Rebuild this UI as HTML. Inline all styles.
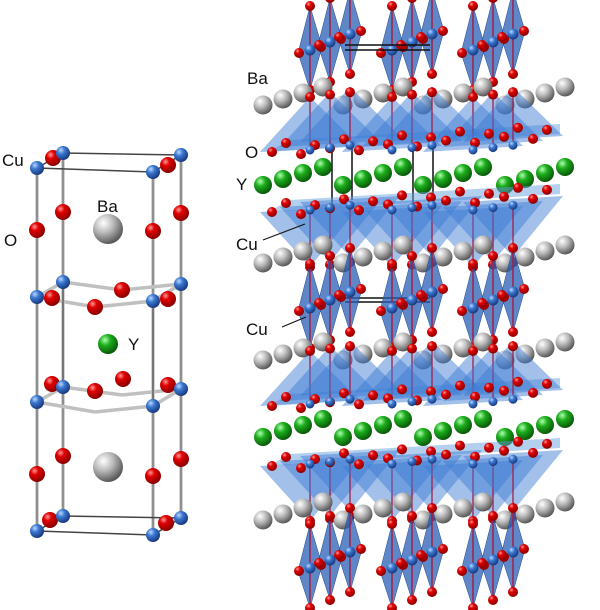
<!DOCTYPE html>
<html><head><meta charset="utf-8"><style>
html,body{margin:0;padding:0;background:#fff;width:600px;height:610px;overflow:hidden}
svg{display:block}
text{font-family:"Liberation Sans",sans-serif;font-size:17px;fill:#111}
</style></head><body>
<svg id="s" width="600" height="610" viewBox="0 0 600 610" xmlns="http://www.w3.org/2000/svg">
<defs>
<radialGradient id="gr" cx="35%" cy="30%" r="70%"><stop offset="0" stop-color="#ff9a9a"/><stop offset=".35" stop-color="#e00000"/><stop offset="1" stop-color="#8a0000"/></radialGradient>
<radialGradient id="gb" cx="35%" cy="30%" r="70%"><stop offset="0" stop-color="#bcd6ff"/><stop offset=".4" stop-color="#3a78d0"/><stop offset="1" stop-color="#1a3a80"/></radialGradient>
<radialGradient id="gg" cx="35%" cy="30%" r="70%"><stop offset="0" stop-color="#b0ffb0"/><stop offset=".4" stop-color="#1cae1c"/><stop offset="1" stop-color="#0a5a0a"/></radialGradient>
<radialGradient id="gw" cx="35%" cy="30%" r="70%"><stop offset="0" stop-color="#ffffff"/><stop offset=".45" stop-color="#bdbdbd"/><stop offset="1" stop-color="#5a5a5a"/></radialGradient>
</defs>
<g id="L"></g>
<g id="R"></g>
<text x="2" y="166">Cu</text>
<text x="4" y="246">O</text>
<text x="97" y="212">Ba</text>
<text x="128" y="350">Y</text>
<text x="247" y="84">Ba</text>
<text x="245" y="158">O</text>
<text x="236" y="190">Y</text>
<text x="236" y="250">Cu</text>
<text x="246" y="335">Cu</text>
<line x1="263" y1="240" x2="305" y2="224" stroke="#111" stroke-width="1"/>
<line x1="282" y1="327" x2="306" y2="317" stroke="#111" stroke-width="1"/>
</svg>
<script>
var NS="http://www.w3.org/2000/svg";
function el(p,t,a){var e=document.createElementNS(NS,t);for(var k in a)e.setAttribute(k,a[k]);p.appendChild(e);return e;}
var L=document.getElementById('L'),R=document.getElementById('R');
function ball(p,x,y,r,g){el(p,'circle',{cx:x,cy:y,r:r,fill:'url(#'+g+')'});}
function bond(p,a,b,w,c){el(p,'line',{x1:a[0],y1:a[1],x2:b[0],y2:b[1],stroke:c||'#aaa','stroke-width':w||3});}
var cols=[[37,0],[63,-15],[153,4],[181,-13]];
var lv=[168,297,402,531];
cols.forEach(function(c){bond(L,[c[0],lv[0]+c[1]],[c[0],lv[3]+c[1]],3.2,'#b8b8b8');bond(L,[c[0],lv[0]+c[1]],[c[0],lv[3]+c[1]],1,'#666');});
function ring(y,pl){var a=[37,y],b=[63,y-15],c=[153,y+4],d=[181,y-13];
 if(pl){var m1=[95,y+10],m2=[122,y-7];
  [[a,m1],[m1,c],[b,m2],[m2,d],[a,b],[c,d]].forEach(function(s){bond(L,s[0],s[1],3.5,'#c0c0c0');});
 }else{[[a,c],[b,d],[a,b],[c,d]].forEach(function(s){bond(L,s[0],s[1],1.5,'#444');});}
}
ring(168,0);ring(297,1);ring(402,1);ring(531,0);
bond(L,[63,280],[63,385],1,'#333');bond(L,[153,301],[153,406],1,'#333');
ball(L,108,229,15,'gw');ball(L,108,467,15,'gw');ball(L,108,344,10,'gg');
[[37,230],[63,212],[153,231],[181,213],[37,474],[63,456],[153,476],[181,459],[53,158],[168,165],[50,520],[166,523],
 [52,298],[95,307],[122,290],[168,299],[52,384],[95,391],[123,379],[168,385]].forEach(function(p){ball(L,p[0],p[1],8,'gr');});
cols.forEach(function(c){lv.forEach(function(y){ball(L,c[0],y+c[1],7,'gb');});});
var colx=[310,330,350,392,412,432,473,493,513];
var coly=[0,-8,-16,0,-8,-16,0,-8,-16];
function octa(cy,sc){colx.forEach(function(x,i){var y=cy+coly[i];
 el(R,'polygon',{points:(x)+','+(y-44*sc)+' '+(x+12)+','+(y-3)+' '+x+','+(y+40*sc)+' '+(x-12)+','+(y+3),fill:'#2a5fb5','fill-opacity':.75,stroke:'#1f4a96','stroke-width':.5});
 bond(R,[x,y-44*sc],[x,y+40*sc],1.5,'#a0204a');
});colx.forEach(function(x,i){var y=cy+coly[i];
 ball(R,x,y,5.5,'gb');ball(R,x,y-44*sc,5,'gr');ball(R,x,y+40*sc,5,'gr');ball(R,x-11,y+3,5,'gr');ball(R,x+11,y-3,5,'gr');});}
function pyr(y0,dir){
 el(R,'polygon',{points:'268,'+(y0)+' 560,'+(y0-18)+' 560,'+(y0-28)+' 290,'+(y0-12),fill:'#6aa2e0','fill-opacity':.5});
 [310,392,473].forEach(function(x){for(var d=0;d<3;d++){var xx=x+d*20,yy=y0-d*5;
  el(R,'polygon',{points:(xx-50)+','+yy+' '+(xx+50)+','+(yy-6)+' '+xx+','+(yy+dir*55),fill:'#3c7cd4','fill-opacity':.48});
  bond(R,[xx,yy],[xx,yy+dir*55],1.3,'#a0204a');}});
 for(var r=0;r<2;r++)for(var i=0;i<10;i++){var x=272+i*29+r*14,y=y0-i*1.9-r*9+(i%2?4:0);ball(R,x,y,5,'gr');}
 colx.forEach(function(x,i){ball(R,x,y0+coly[i]*.3-2,4.5,'gb');ball(R,x,y0+coly[i]*.3+dir*55,5,'gr');});
}
function row(y0,g,r){[263,343,423,505].forEach(function(s){for(var k=0;k<4;k++)ball(R,s+k*20,y0-k*6,r,g);});}
octa(50,1);
[[345,45,430,45],[345,50,430,50],[332,150,332,205],[352,145,352,200],[413,150,413,205],[433,145,433,200],[345,298,430,298],[345,302,430,302]].forEach(function(l){bond(R,[l[0],l[1]],[l[2],l[3]],1.5,'#111');});
row(105,'gw',9.5);
pyr(152,-1);
row(185,'gg',9);
pyr(212,1);
row(263,'gw',9.5);
octa(308,1);
row(360,'gw',9.5);
pyr(406,-1);
row(437,'gg',9);
pyr(466,1);
row(520,'gw',9.5);
octa(568,1);
</script>
</body></html>
